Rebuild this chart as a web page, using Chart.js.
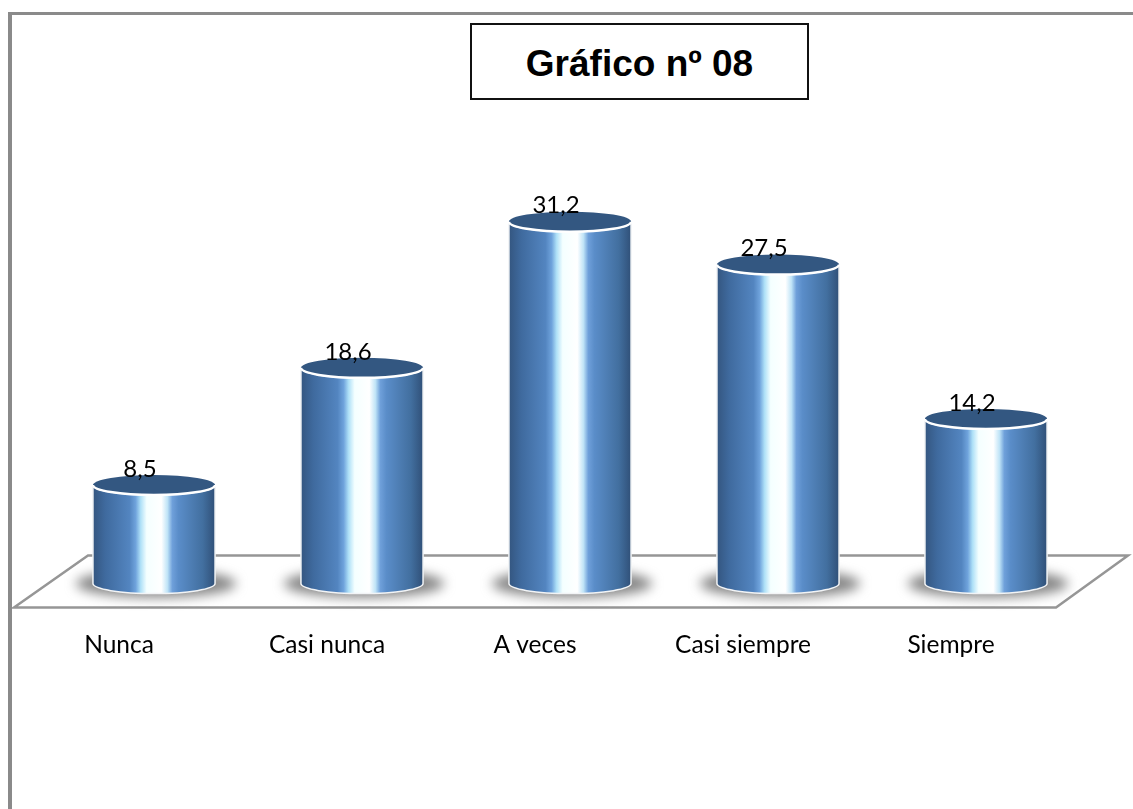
<!DOCTYPE html>
<html>
<head>
<meta charset="utf-8">
<title>Gráfico nº 08</title>
<script src="https://cdn.jsdelivr.net/npm/chart.js@4"></script>
<style>
    html, body { margin: 0; padding: 0; background: #fff; }
    #wrap { position: relative; width: 1133px; height: 809px; overflow: hidden; }
    #chart { position: absolute; left: 0; top: 0; }
    #frameTop { position: absolute; left: 8px; top: 12px; width: 1125px; height: 3px; background: #8a8a8a; }
    #frameLeft { position: absolute; left: 8px; top: 12px; width: 4px; height: 797px; background: #8a8a8a; }
    #titleBox {
        position: absolute; left: 470px; top: 23px; width: 335px; height: 73px;
        border: 2px solid #111; background: #fff; color: #000;
        font: bold 37px "Liberation Sans", Arial, sans-serif;
        text-align: center; line-height: 78px;
    }
</style>
</head>
<body>
<div id="wrap">
    <canvas id="chart" width="1133" height="809"></canvas>
    <div id="frameTop"></div>
    <div id="frameLeft"></div>
    <div id="titleBox">Gráfico nº 08</div>
</div>
<script>
var categories = ['Nunca', 'Casi nunca', 'A veces', 'Casi siempre', 'Siempre'];
var values = [8.5, 18.6, 31.2, 27.5, 14.2];
var axisMax = 40;

var labelFont = '24px Lato, "Open Sans", sans-serif';

// floor under the columns, hung off the chart area
var floorPlugin = {
    id: 'floor',
    beforeDatasetsDraw: function (chart) {
        var ctx = chart.ctx;
        var area = chart.chartArea;
        var front = area.bottom + 24;
        var back = area.bottom - 28;
        ctx.save();
        ctx.strokeStyle = '#969696';
        ctx.lineWidth = 2.5;
        ctx.lineJoin = 'miter';
        ctx.beginPath();
        ctx.moveTo(area.left - 36, front);
        ctx.lineTo(area.right - 34, front);
        ctx.lineTo(area.right + 38, back);
        ctx.lineTo(area.left + 38, back);
        ctx.closePath();
        ctx.stroke();
        ctx.restore();
    }
};

// the bars stay invisible, each one gets painted as a cylinder on top of its own geometry
var cylinderPlugin = {
    id: 'cylinder',
    afterDatasetsDraw: function (chart) {
        var ctx = chart.ctx;
        var bars = chart.getDatasetMeta(0).data;
        var ry = 10;
        bars.forEach(function (bar, i) {
            var rx = bar.width / 2;
            var left = bar.x - rx;
            var right = bar.x + rx;

            // soft shadow on the floor
            ctx.save();
            ctx.filter = 'blur(6px)';
            ctx.fillStyle = 'rgba(120,120,120,0.9)';
            ctx.beginPath();
            ctx.ellipse(bar.x + 2, bar.base, rx + 19, 14, 0, 0, Math.PI * 2);
            ctx.fill();
            ctx.restore();

            var grad = ctx.createLinearGradient(left, 0, right, 0);
            grad.addColorStop(0, '#345680');
            grad.addColorStop(0.1, '#3f6a9e');
            grad.addColorStop(0.3, '#5385c0');
            grad.addColorStop(0.35, '#6fa3dc');
            grad.addColorStop(0.39, '#aee0f7');
            grad.addColorStop(0.44, '#f4ffff');
            grad.addColorStop(0.56, '#ffffff');
            grad.addColorStop(0.61, '#c0e4f7');
            grad.addColorStop(0.65, '#6fa0da');
            grad.addColorStop(0.7, '#5a8dc9');
            grad.addColorStop(0.9, '#426f9f');
            grad.addColorStop(1, '#305078');

            // body with the white rim
            ctx.save();
            ctx.beginPath();
            ctx.moveTo(left, bar.y);
            ctx.lineTo(left, bar.base);
            ctx.ellipse(bar.x, bar.base, rx, ry, 0, Math.PI, 0, true);
            ctx.lineTo(right, bar.y);
            ctx.ellipse(bar.x, bar.y, rx, ry, 0, 0, Math.PI);
            ctx.closePath();
            ctx.fillStyle = grad;
            ctx.fill();
            ctx.strokeStyle = '#f2f4f6';
            ctx.lineWidth = 1.5;
            ctx.stroke();

            // lid
            ctx.beginPath();
            ctx.ellipse(bar.x, bar.y, rx, ry, 0, 0, Math.PI * 2);
            ctx.fillStyle = '#335781';
            ctx.fill();
            ctx.beginPath();
            ctx.ellipse(bar.x, bar.y, rx, ry, 0, 0, Math.PI);
            ctx.strokeStyle = '#ffffff';
            ctx.lineWidth = 2.5;
            ctx.stroke();

            // value, decimal comma, a little left of the column axis
            ctx.fillStyle = '#000';
            ctx.font = labelFont;
            ctx.textAlign = 'center';
            ctx.textBaseline = 'middle';
            ctx.fillText(values[i].toFixed(1).replace('.', ','), bar.x - 14, bar.y - 16);
            ctx.restore();
        });
    }
};

var chart = new Chart(document.getElementById('chart'), {
    type: 'bar',
    data: {
        labels: categories,
        datasets: [{
            data: values,
            backgroundColor: 'rgba(0,0,0,0)',
            barPercentage: 0.587,
            categoryPercentage: 1
        }]
    },
    options: {
        responsive: false,
        animation: false,
        layout: { padding: { left: 50, right: 43, top: 119.6, bottom: 110 } },
        plugins: {
            legend: { display: false },
            tooltip: { enabled: false }
        },
        scales: {
            x: {
                grid: { display: false },
                border: { display: false },
                ticks: {
                    color: '#000',
                    font: { family: 'Lato, "Open Sans", sans-serif', size: 24.5 },
                    padding: 39,
                    labelOffset: -35,
                    maxRotation: 0
                }
            },
            y: { display: false, min: 0, max: axisMax }
        }
    },
    plugins: [floorPlugin, cylinderPlugin]
});
</script>
</body>
</html>
